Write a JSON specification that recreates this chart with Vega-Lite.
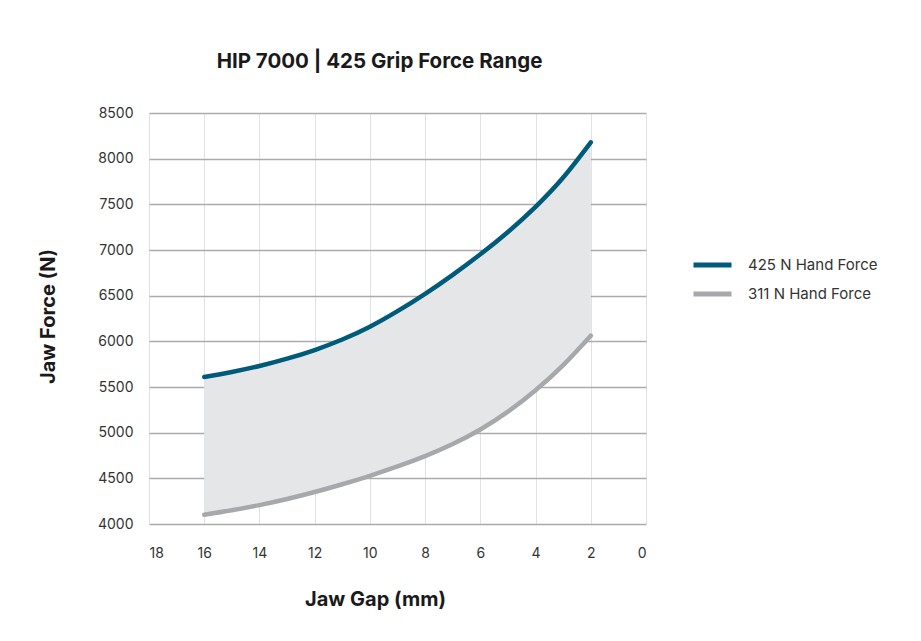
{
  "$schema": "https://vega.github.io/schema/vega-lite/v6.json",
  "width": 497,
  "height": 411,
  "autosize": {"type": "none"},
  "padding": {"left": 149, "top": 113, "right": 275, "bottom": 117},
  "background": "white",
  "title": {
    "text": "HIP 7000 | 425 Grip Force Range",
    "font": "Inter",
    "fontSize": 20.5,
    "fontWeight": "bold",
    "color": "#1a1a1a",
    "anchor": "middle",
    "dx": -18,
    "offset": 34
  },
  "data": {
    "values": [
      {"gap": 16, "f425": 5610, "f311": 4102},
      {"gap": 15, "f425": 5665, "f311": 4150},
      {"gap": 14, "f425": 5730, "f311": 4207},
      {"gap": 13, "f425": 5810, "f311": 4274},
      {"gap": 12, "f425": 5905, "f311": 4350},
      {"gap": 11, "f425": 6020, "f311": 4435},
      {"gap": 10, "f425": 6160, "f311": 4528},
      {"gap": 9, "f425": 6330, "f311": 4630},
      {"gap": 8, "f425": 6520, "f311": 4743},
      {"gap": 7, "f425": 6728, "f311": 4875},
      {"gap": 6, "f425": 6953, "f311": 5035},
      {"gap": 5, "f425": 7198, "f311": 5230},
      {"gap": 4, "f425": 7473, "f311": 5465},
      {"gap": 3, "f425": 7793, "f311": 5740},
      {"gap": 2, "f425": 8178, "f311": 6062}
    ]
  },
  "encoding": {
    "x": {
      "field": "gap",
      "type": "quantitative",
      "scale": {"domain": [18, 0], "nice": false},
      "axis": {
        "values": [18, 16, 14, 12, 10, 8, 6, 4, 2, 0],
        "title": "Jaw Gap (mm)",
        "titleFont": "Inter",
        "titleFontSize": 20,
        "titleFontWeight": "bold",
        "titleColor": "#1a1a1a",
        "titleX": 226,
        "titleY": 75,
        "titleBaseline": "middle",
        "labelFont": "Inter",
        "labelFontSize": 14,
        "labelColor": "#333333",
        "labelPadding": 22,
        "ticks": false,
        "domain": false,
        "grid": true,
        "gridColor": "#e2e2e2",
        "gridWidth": 1
      }
    }
  },
  "layer": [
    {
      "mark": {"type": "area", "color": "#e5e6e8", "interpolate": "natural"},
      "encoding": {
        "y": {
          "field": "f311",
          "type": "quantitative",
          "scale": {"domain": [4000, 8500], "nice": false},
          "axis": {
            "values": [4000, 4500, 5000, 5500, 6000, 6500, 7000, 7500, 8000, 8500],
            "format": "d",
            "title": "Jaw Force (N)",
            "titleFont": "Inter",
            "titleFontSize": 20,
            "titleFontWeight": "bold",
            "titleColor": "#1a1a1a",
            "titleAngle": -90,
            "titleX": -101,
            "titleY": 203,
            "titleAlign": "center",
            "titleBaseline": "middle",
            "labelFont": "Inter",
            "labelFontSize": 14,
            "labelColor": "#333333",
            "labelPadding": 16,
            "ticks": false,
            "domain": false,
            "grid": true,
            "gridColor": "#ababab",
            "gridWidth": 1.3
          }
        },
        "y2": {"field": "f425"}
      }
    },
    {
      "transform": [
        {"fold": ["f425", "f311"], "as": ["key", "force"]},
        {"calculate": "datum.key == 'f425' ? '425 N Hand Force' : '311 N Hand Force'", "as": "series"}
      ],
      "mark": {"type": "line", "strokeWidth": 4.5, "strokeCap": "round", "interpolate": "natural"},
      "encoding": {
        "y": {"field": "force", "type": "quantitative"},
        "color": {
          "field": "series",
          "type": "nominal",
          "scale": {
            "domain": ["425 N Hand Force", "311 N Hand Force"],
            "range": ["#005b7b", "#a7a8ab"]
          },
          "legend": {
            "title": null,
            "orient": "none",
            "legendX": 542,
            "legendY": 142,
            "symbolType": "stroke",
            "symbolSize": 1444,
            "symbolStrokeWidth": 5,
            "clipHeight": 20,
            "labelFont": "Inter",
            "labelFontSize": 15,
            "labelColor": "#333333",
            "labelOffset": 14,
            "rowPadding": 9
          }
        }
      }
    }
  ],
  "config": {
    "view": {"stroke": null}
  }
}
